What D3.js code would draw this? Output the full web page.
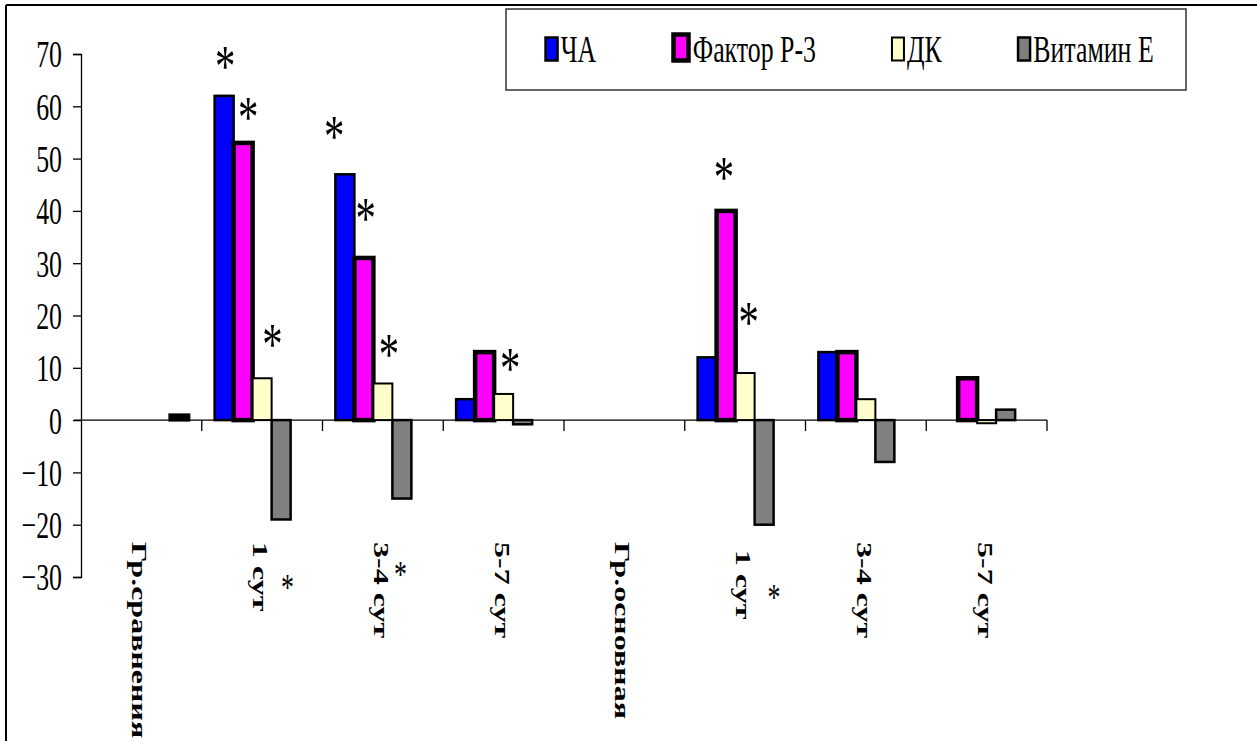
<!DOCTYPE html>
<html><head><meta charset="utf-8">
<script src="https://cdn.jsdelivr.net/npm/d3@7"></script>
<style>
body{margin:0;background:#fff}
svg{display:block}
svg text{font-family:"Liberation Serif","DejaVu Serif",serif !important;fill:#000}
</style>
</head><body>
<svg id="chart" width="1257" height="741"></svg>
<script>
// ---- data ----
const categories = ["Гр.сравнения", "1 сут", "3-4 сут", "5-7 сут", "Гр.основная", "\u00A01 сут", "3-4 сут", "5-7 сут"];
const seriesNames = ["ЧА", "Фактор Р-3", "ДК", "Витамин Е"];
const valuesCHA    = [null, 62, 47, 4, null, 12, 13, null];
const valuesFactor = [null, 53, 31, 13, null, 40, 13, 8];
const valuesDK     = [null, 8, 7, 5, null, 9, 4, -0.6];
const valuesVitE   = [null, -19, -15, -0.8, null, -20, -8, 2];
const valuesExtra  = [1, null, null, null, null, null, null, null];
const yTicks = [-30, -20, -10, 0, 10, 20, 30, 40, 50, 60, 70];
// significance marks: category index, slot position within group, value level, big/small
const starCategory = [1, 1, 1, 2, 2, 2, 3, 5, 5, 1, 2, 5];
const starSlot     = [0.55, 1.77, 3.05, -0.06, 1.6, 2.82, 2.84, 1.39, 2.69, 3.83, 3.42, 4.02];
const starValue    = [69.2, 59.5, 16.2, 55.8, 40.2, 14.3, 11.5, 48, 20.4, -31, -28.5, -32.8];
const starBig      = [1, 1, 1, 1, 1, 1, 1, 1, 1, 0, 0, 0];

// ---- layout / style ----
const SX = 0.68; // horizontal text compression of the original picture
const FONT = '"Liberation Serif","DejaVu Serif",serif';
const colors  = ["#0000FF", "#FF00FF", "#FFFFCC", "#808080", "#000000"];
const strokes = [2.5, 4.5, 2, 2.5, 3];
const seriesValues = [valuesCHA, valuesFactor, valuesDK, valuesVitE, valuesExtra];

const svg = d3.select("#chart");

// frame
svg.append("line").attr("x1", 6).attr("x2", 1257).attr("y1", 5).attr("y2", 5).attr("stroke", "#000").attr("stroke-width", 2);
svg.append("line").attr("x1", 6).attr("x2", 6).attr("y1", 5).attr("y2", 741).attr("stroke", "#000").attr("stroke-width", 2);

const x = d3.scaleBand().domain(d3.range(categories.length)).range([81, 1047]).paddingInner(0).paddingOuter(0);
const slot = d3.scaleBand().domain(d3.range(5)).range([0, x.bandwidth()]).paddingInner(0).paddingOuter(0.678);
const y = d3.scaleLinear().domain([-30, 70]).range([577, 54]);

// y axis
const yAxis = svg.append("g").attr("transform", "translate(81,0)")
  .call(d3.axisLeft(y).tickValues(yTicks).tickSize(8).tickFormat(d3.format("d")));
yAxis.attr("font-family", FONT).attr("font-size", 38);
yAxis.select(".domain").attr("stroke", "#000").attr("stroke-width", 1.3);
yAxis.selectAll(".tick line").attr("stroke", "#000").attr("stroke-width", 1.3);
yAxis.selectAll(".tick text")
  .attr("x", null).attr("dy", "0.34em")
  .attr("transform", `translate(-19,0) scale(${SX},1)`)
  .attr("text-anchor", "end")
  .style("font-family", FONT)
  .style("font-size", "38px");

// x axis line with ticks at category boundaries
const xg = svg.append("g");
xg.append("line").attr("x1", 74).attr("x2", 1047).attr("y1", y(0)).attr("y2", y(0)).attr("stroke", "#000").attr("stroke-width", 1.3);
xg.selectAll("line.tk").data(d3.range(1, categories.length + 1)).join("line").attr("class", "tk")
  .attr("x1", d => x.range()[0] + d * x.step()).attr("x2", d => x.range()[0] + d * x.step())
  .attr("y1", y(0)).attr("y2", y(0) + 11).attr("stroke", "#000").attr("stroke-width", 1.3);

// bars
seriesValues.forEach((vals, si) => {
  svg.append("g").selectAll("rect").data(vals.map((v, ci) => ({v, ci})).filter(d => d.v !== null))
    .join("rect")
    .attr("x", d => x(d.ci) + slot(si))
    .attr("width", slot.bandwidth())
    .attr("y", d => y(Math.max(0, d.v)))
    .attr("height", d => Math.abs(y(d.v) - y(0)))
    .attr("fill", colors[si])
    .attr("stroke", "#000")
    .attr("stroke-width", strokes[si]);
});

// category labels (rotated)
svg.append("g").selectAll("text").data(categories).join("text")
  .attr("transform", (d, i) => `translate(${x(i) + x.bandwidth() / 2 - 9},542) scale(${SX},1) rotate(90)`)
  .attr("text-anchor", "start")
  .style("font-family", FONT)
  .style("font-size", "32px").style("font-weight", "bold")
  .text(d => d);

// stars
const starSize = i => starBig[i] ? 60 : 38;
svg.append("g").selectAll("text").data(starCategory.map((c, i) => i)).join("text")
  .attr("transform", i => {
    const cx = x(starCategory[i]) + slot(0) + starSlot[i] * slot.step();
    const cy = y(starValue[i]) + starSize(i) * 0.47;
    return `translate(${cx},${cy}) scale(${SX},1)`;
  })
  .attr("text-anchor", "middle")
  .style("font-family", FONT)
  .style("font-size", i => starSize(i) + "px")
  .text("*");

// legend
const lg = svg.append("g");
lg.append("rect").attr("x", 506).attr("y", 9).attr("width", 680).attr("height", 81)
  .attr("fill", "#fff").attr("stroke", "#333").attr("stroke-width", 1.5);
let lx = 544.3;
seriesNames.forEach((name, si) => {
  const sw = si === 1 ? 15 : 12;
  const sh = si === 1 ? 26 : 23;
  const top = si === 1 ? 34.5 : 37.5;
  lg.append("rect").attr("x", lx + strokes[si] / 2).attr("y", top).attr("width", sw).attr("height", sh)
    .attr("fill", colors[si]).attr("stroke", "#000").attr("stroke-width", strokes[si]);
  const tx = lx + sw + strokes[si] + 2;
  const t = lg.append("text").attr("transform", `translate(${tx},61.7) scale(${SX},1)`)
    .style("font-family", FONT)
    .style("font-size", "38px").text(name);
  const w = t.node().getComputedTextLength() * SX;
  lx = tx + w + 75;
});
</script>
</body></html>
